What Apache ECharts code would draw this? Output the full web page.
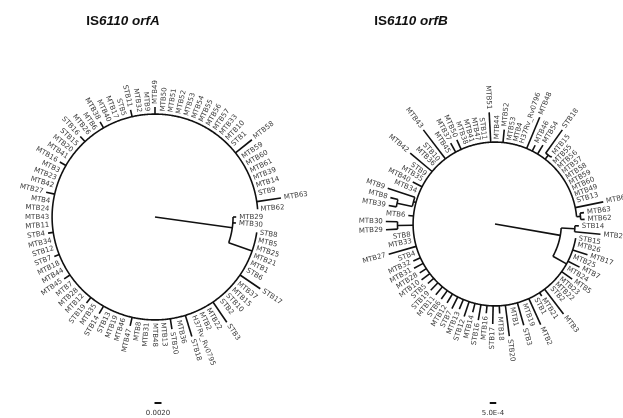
<!DOCTYPE html>
<html><head><meta charset="utf-8">
<script src="https://cdn.jsdelivr.net/npm/echarts@6/dist/echarts.min.js"></script>
<style>html,body{margin:0;padding:0;background:#fff}#c{width:623px;height:418px}</style>
</head><body><div id="c"></div>
<script>
// ---------- orfA tree (branch lengths in units of 0.001) ----------
const orfALeaves = ['MTB29','MTB30','STB8','MTB5','MTB25','MTB21','MTB1','STB6','STB17','MTB37','MTB15','STB10','STB2','STB3','MTB22','MTB2','H37Rv_Rv0795','STB18','MTB36','STB20','MTB13','MTB48','MTB31','MTB8','MTB47','MTB46','MTB19','STB13','STB14','MTB35','STB19','MTB12','MTB28','MTB7','MTB45','MTB44','MTB18','STB7','STB12','MTB34','STB4','MTB11','MTB43','MTB24','MTB4','MTB27','MTB42','MTB23','MTB3','MTB16','MTB41','MTB20','STB15','STB16','MTB26','MTB6','MTB38','MTB40','MTB17','STB5','STB11','MTB32','MTB9','MTB49','MTB50','MTB51','MTB52','MTB53','MTB54','MTB55','MTB56','MTB57','MTB33','MTB10','STB1','MTB58','MTB59','MTB60','MTB61','MTB39','MTB14','STB9','MTB63','MTB62'];
const orfATips = [0.9,0.9,0,0,0,0,0,0,7,0,0,0,0,7,0,0,0,6.3,0,3,0,0,0,0,2.5,0,0,0,2.5,0,2,0,0,0,2,0,0,1.5,0,0,1.5,0,0,0,0,2.5,0,0,0,2,0,0,0,2,0,0,2,0,0,0,2,0,0,2,0,0,0,0,0,0,0,0,0,0,0,6,0,0,0,0,0,0,7,0];
// clades: [first leaf, last leaf, stem length, anchor leaf A, anchor leaf B]
const orfAClades = [
  ['MTB29','MTB62',22.3],
  ['STB8','MTB62',7.1,'STB8','STB6']
];
const orfAScale = 2;            // 0.0020
const orfAScaleLabel = '0.0020';

// ---------- orfB tree (branch lengths in units of 0.0001) ----------
const orfBLeaves = ['STB14','MTB20','STB15','MTB26','MTB17','MTB25','MTB7','MTB24','MTB5','MTB23','MTB22','STB2','MTB3','MTB21','STB1','MTB2','MTB19','STB3','MTB1','STB20','MTB18','STB17','MTB16','STB16','MTB14','STB12','MTB13','STB7','MTB12','STB6','MTB11','STB19','STB5','MTB10','MTB28','MTB31','MTB32','STB4','MTB27','MTB33','STB8','MTB29','MTB30','MTB6','MTB39','MTB8','MTB9','MTB34','MTB40','MTB35','STB9','MTB42','MTB36','STB10','MTB43','MTB45','MTB37','MTB50','MTB38','MTB41','MTB47','STB11','MTB51','MTB44','MTB52','MTB53','MTB4','H37Rv_Rv0796','MTB48','MTB46','MTB54','STB18','MTB15','MTB55','MTB56','MTB57','MTB58','MTB59','MTB60','MTB49','STB13','MTB61','MTB63','MTB62'];
const orfBTips = [3,20,0,0,12,0,10,0,10,0,0,0,24,3,0,22,0,18,0,24,6,14,6,12,7,12,8,10,8,8,8,8,6,8,6,8,6,0,22,0,0,9,9,4,6,6,22,0,8,0,0,22,0,0,28,0,8,8,0,0,0,0,23,0,10,0,0,0,26,5,8,22,1,0,0,0,0,0,0,0,0,22,3,3];
const orfBClades = [
  ['STB14','MTB62',51,'STB15','STB15'],
  ['STB14','MTB20',10.5],
  ['STB15','MTB62',12,'MTB7','MTB24'],
  ['MTB29','MTB30',12],
  ['MTB39','MTB9',2],
  ['MTB39','MTB8',12],
  ['STB18','MTB15',4],
  ['MTB63','MTB62',3]
];
const orfBScale = 5;            // 5.0E-4
const orfBScaleLabel = '5.0E-4';

function buildTree(leaves, tips, clades, start, scaleLen) {
  const n = leaves.length, step = 360 / n;
  const at = name => leaves.indexOf(name);
  const leafAng = i => start + i * step;
  const nodes = clades.map(c => ({a: at(c[0]), b: at(c[1]), len: c[2],
    anc: c.length > 3 ? [at(c[3]), at(c[4])] : null, kids: []}));
  const size = c => c.b - c.a;
  nodes.forEach(c => {
    c.parent = null;
    nodes.forEach(p => {
      if (p !== c && p.a <= c.a && p.b >= c.b && size(p) > size(c) &&
          (!c.parent || size(p) < size(c.parent))) c.parent = p;
    });
  });
  const desc = nodes.slice().sort((p, q) => size(q) - size(p));
  desc.forEach(c => { c.r = (c.parent ? c.parent.r : 0) + c.len; });
  nodes.forEach(c => { if (c.parent) c.parent.kids.push({clade: c}); });
  for (let i = 0; i < n; i++) {
    let best = null;
    nodes.forEach(p => { if (p.a <= i && p.b >= i && (!best || size(p) < size(best))) best = p; });
    best.kids.push({leaf: i});
  }
  const kidAng = k => k.clade ? k.clade.ang : leafAng(k.leaf);
  desc.slice().reverse().forEach(c => {
    if (c.anc) c.ang = (leafAng(c.anc[0]) + leafAng(c.anc[1])) / 2;
    else { const as = c.kids.map(kidAng); c.ang = as.reduce((s, x) => s + x, 0) / as.length; }
  });
  const items = [];
  const root = desc[0];
  items.push([0, 0, root.r, root.ang, 0]);
  nodes.forEach(c => {
    const as = c.kids.map(kidAng);
    items.push([1, c.r, Math.min(...as), Math.max(...as), 0]);
    c.kids.forEach(k => {
      if (k.clade) items.push([0, c.r, k.clade.r, k.clade.ang, 0]);
      else {
        const t = tips[k.leaf];
        if (t > 0) items.push([0, c.r, c.r + t, leafAng(k.leaf), 0]);
        items.push([2, c.r + t, leafAng(k.leaf), k.leaf, 0]);
      }
    });
  });
  items.push([3, scaleLen, 0, 0, 0]);
  return items;
}

function renderer(leaves, scaleLabel, scaleOff, maxR) {
  return function (params, api) {
    const k = api.value(0);
    const norm = a => ((a % 360) + 360) % 360;
    const P = (r, a) => api.coord([r, norm(a)]);
    const ls = {stroke: '#111', lineWidth: 1.6, fill: null};
    if (k === 0) {
      const a = api.value(3), p0 = P(api.value(1), a), p1 = P(api.value(2), a);
      return {type: 'line', shape: {x1: p0[0], y1: p0[1], x2: p1[0], y2: p1[1]}, style: ls};
    }
    if (k === 1) {
      const r = api.value(1), a0 = api.value(2), a1 = api.value(3);
      const pts = [];
      const steps = Math.max(2, Math.ceil((a1 - a0) / 0.5));
      for (let i = 0; i <= steps; i++) pts.push(P(r, a0 + (a1 - a0) * i / steps).slice(0, 2));
      return {type: 'polyline', shape: {points: pts}, style: ls};
    }
    if (k === 2) {
      const r = api.value(1), a = api.value(2), name = leaves[api.value(3)];
      const c = P(0, a), far = P(maxR, a), p = P(r, a);
      let dx = far[0] - c[0], dy = far[1] - c[1];
      const L = Math.hypot(dx, dy); dx /= L; dy /= L;
      const pad = 3;
      const x = p[0] + dx * pad, y = p[1] + dy * pad;
      const th = Math.atan2(-dy, dx);
      const right = dx >= -1e-6;
      return {type: 'text', x: x, y: y, rotation: right ? th : th + Math.PI,
        style: {text: name, fill: '#3c3c3c', font: '7px "DejaVu Sans"',
          align: right ? 'left' : 'right', verticalAlign: 'middle',
          textAlign: right ? 'left' : 'right', textVerticalAlign: 'middle'}};
    }
    if (k === 3) {
      const c = P(0, 90), p = P(api.value(1), 90);
      const L = p[0] - c[0];
      const cx = c[0] + scaleOff[0], cy = c[1] + scaleOff[1];
      return {type: 'group', children: [
        {type: 'line', shape: {x1: cx - L / 2, y1: cy, x2: cx + L / 2, y2: cy}, style: {stroke: '#111', lineWidth: 2}},
        {type: 'text', x: cx, y: cy + 10, style: {text: scaleLabel, fill: '#333', font: '7px "DejaVu Sans"',
          align: 'center', verticalAlign: 'middle', textAlign: 'center', textVerticalAlign: 'middle'}}
      ]};
    }
    return null;
  };
}

const chart = echarts.init(document.getElementById('c'), null, {renderer: 'canvas'});
const titleRich = {
  a: {fontFamily: '"Liberation Sans", Arial', fontWeight: 'bold', fontSize: 13.5, fill: '#111', color: '#111'},
  b: {fontFamily: '"Liberation Sans", Arial', fontWeight: 'bold', fontStyle: 'italic', fontSize: 13.5, fill: '#111', color: '#111'}
};
chart.setOption({
  animation: false,
  backgroundColor: '#fff',
  graphic: [
    {type: 'text', x: 123, y: 21, style: {text: '{a|IS}{b|6110 orfA}', rich: titleRich, align: 'center', verticalAlign: 'middle', textAlign: 'center', textVerticalAlign: 'middle'}},
    {type: 'text', x: 411, y: 21, style: {text: '{a|IS}{b|6110 orfB}', rich: titleRich, align: 'center', verticalAlign: 'middle', textAlign: 'center', textVerticalAlign: 'middle'}}
  ],
  polar: [
    {center: [155, 217], radius: 140},
    {center: [495, 224], radius: 130}
  ],
  radiusAxis: [
    {polarIndex: 0, type: 'value', min: 0, max: 40, show: false},
    {polarIndex: 1, type: 'value', min: 0, max: 100, show: false}
  ],
  angleAxis: [
    {polarIndex: 0, type: 'value', min: 0, max: 360, startAngle: 90, clockwise: true, show: false},
    {polarIndex: 1, type: 'value', min: 0, max: 360, startAngle: 90, clockwise: true, show: false}
  ],
  series: [
    {type: 'custom', coordinateSystem: 'polar', polarIndex: 0, silent: true,
     data: buildTree(orfALeaves, orfATips, orfAClades, 90, orfAScale),
     renderItem: renderer(orfALeaves, orfAScaleLabel, [3, 186], 40)},
    {type: 'custom', coordinateSystem: 'polar', polarIndex: 1, silent: true,
     data: buildTree(orfBLeaves, orfBTips, orfBClades, 91.3, orfBScale),
     renderItem: renderer(orfBLeaves, orfBScaleLabel, [-2, 179], 100)}
  ]
});
</script>
</body></html>
